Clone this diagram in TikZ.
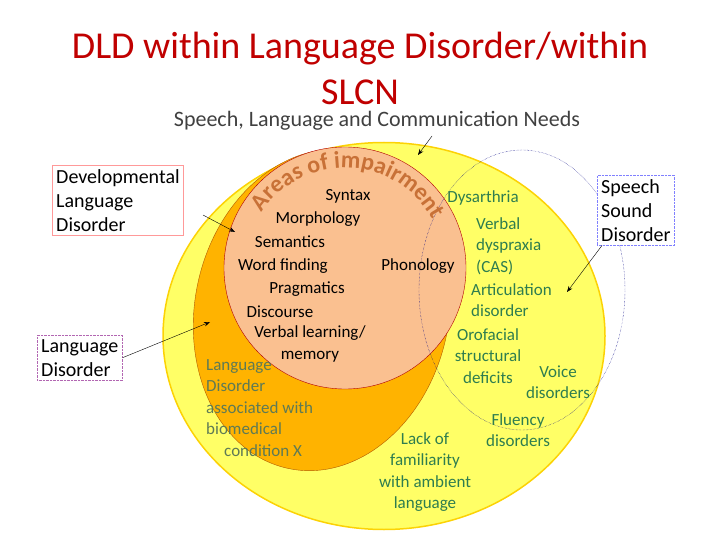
\documentclass[tikz,border=0pt]{standalone}
\usepackage{fontspec}
\setmainfont{Carlito}
\usetikzlibrary{decorations.text,arrows.meta,shapes.geometric}
\definecolor{ttl}{HTML}{C00000}
\definecolor{ylw}{HTML}{FFFF66}
\definecolor{org}{HTML}{FFB300}
\definecolor{pch}{HTML}{FAC090}
\definecolor{grn}{HTML}{2E7D4F}
\definecolor{olv}{HTML}{5E7A55}
\definecolor{aoi}{HTML}{C87137}
\tikzset{lbl/.style={font=\fontsize{17}{21.5}\selectfont,align=left,inner sep=0pt},
 blk/.style={lbl,text=black},
 gr/.style={lbl,text=grn},
 ol/.style={lbl,text=olv},
 bx/.style={font=\fontsize{20}{24}\selectfont,align=left,fill=white,inner sep=4pt},
 arr/.style={-{Stealth[length=6pt]},thin}}
\begin{document}
\begin{tikzpicture}[x=1pt,y=-1pt]
\useasboundingbox (0,0) rectangle (720,540);
\node[text=ttl,font=\fontsize{38}{46}\selectfont,align=center] (title) at (360,68) {DLD within Language Disorder/within\\SLCN};
\node[text=black!75,font=\fontsize{22}{24}\selectfont] (slcn) at (377,121) {Speech, Language and Communication Needs};
\node[draw=yellow!70!orange,line width=1.5pt,fill=ylw,ellipse,minimum width=442,minimum height=387,inner sep=0] (big) at (384,336) {};
\draw[fill=org,draw=orange!70!black,thin,rotate around={-12:(322,310)}] (322,310) ellipse (127 and 162);
\node[circle,draw=red!70!black,fill=pch,minimum size=242,inner sep=0] (dld) at (345,268) {};
\draw[densely dotted,thin,draw=blue!50!black] (522,290) ellipse (103 and 140);
\begin{scope}[shift={(345,268)},y=1pt]
\path[decorate,decoration={text along path,text align=center,text={|\fontsize{24}{24}\selectfont\bfseries\color{aoi}|Areas of impairment}}] (155:100) arc[start angle=155,end angle=20,radius=100];
\end{scope}
\node[blk] at (348,196) {Syntax};
\node[blk] at (318,219) {Morphology};
\node[blk] at (290,242) {Semantics};
\node[blk] at (283,266) {Word finding};
\node[blk] at (418,266) {Phonology};
\node[blk] at (307,289) {Pragmatics};
\node[blk] at (280,312) {Discourse};
\node[blk,align=center] at (310,344) {Verbal learning/\\memory};
\node[gr] at (483,198) {Dysarthria};
\node[gr,anchor=west] at (476,246) {Verbal\\dyspraxia\\(CAS)};
\node[gr,anchor=west] at (471,300) {Articulation\\disorder};
\node[gr,align=center] at (488,356) {Orofacial\\structural\\deficits};
\node[gr,align=center] at (558,382) {Voice\\disorders};
\node[gr,align=center] at (518,430) {Fluency\\disorders};
\node[gr,align=center] at (425,472) {Lack of\\familiarity\\with ambient\\language};
\node[ol,anchor=north west] at (206,359) {Language\\Disorder\\associated with\\biomedical\\\hspace*{18pt}condition X};
\node[bx,draw=red!40,anchor=north west] (b1) at (52,165) {Developmental\\Language\\Disorder};
\node[bx,draw=blue!50,densely dotted,anchor=north west] (b2) at (597,175) {Speech\\Sound\\Disorder};
\node[bx,draw=violet!60,densely dotted,anchor=north west] (b3) at (37,335) {Language\\Disorder};
\coordinate (t1) at (235,232);
\coordinate (t2) at (567,292);
\coordinate (t3) at (210,322);
\coordinate (t4) at (418,155);
\coordinate (s4) at (432,136);
\coordinate (s1) at (203,215);
\draw[arr] (s1) -- (t1);
\draw[arr] (b2.south west) ++(5,0) -- (t2);
\draw[arr] (b3.east) -- (t3);
\draw[arr] (s4) -- (t4);
\end{tikzpicture}
\end{document}
